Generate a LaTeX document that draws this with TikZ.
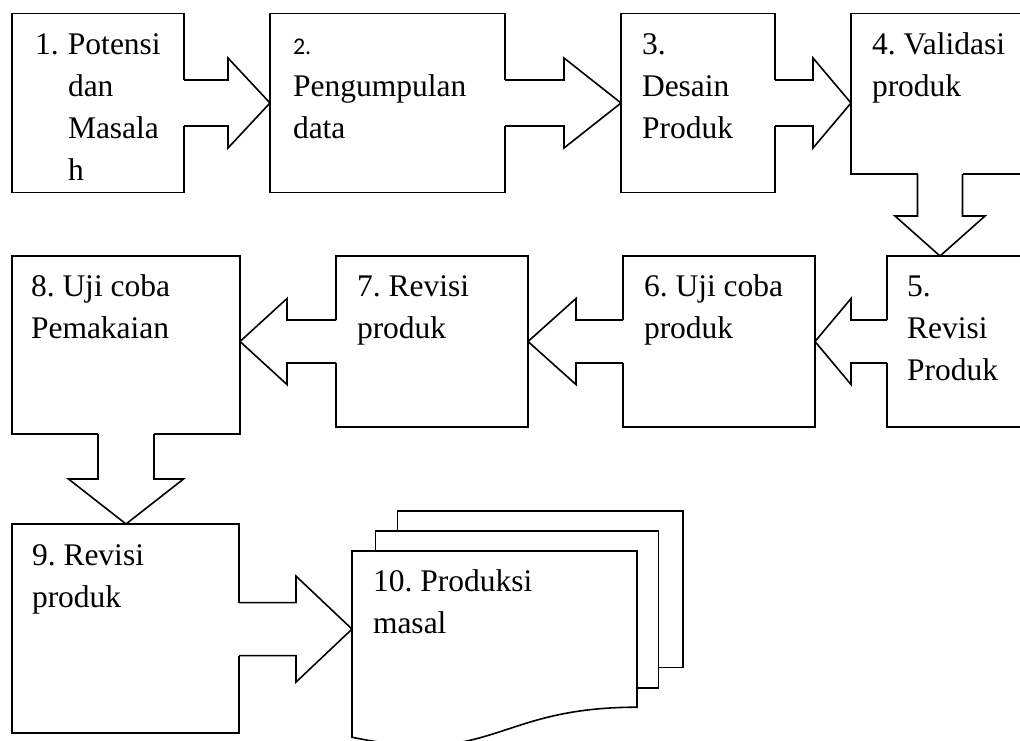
\documentclass[tikz,border=0pt]{standalone}
\usepackage{fontspec}
\setmainfont{Liberation Serif}
\newfontfamily\calib{Carlito}
\usetikzlibrary{calc}
\frenchspacing

\tikzset{
  outl/.style={line width=1.6pt, line join=miter},
  box/.style={outl, draw, fill=white, rectangle, anchor=north west, inner sep=0pt, outer sep=0pt},
  ghost/.style={rectangle, anchor=north west, inner sep=0pt, outer sep=0pt},
  lbl/.style={anchor=base west, inner sep=0pt, outer sep=0pt, font=\fontsize{31.5}{42}\selectfont},
}

% block arrows: #1 source node, #2 tip, #3 shaft half width, #4 head half width, #5 head length
\newcommand\blockR[5]{%
  \coordinate (tp) at (#2);
  \coordinate (st) at (#1.east |- tp);
  \fill[white] ($(st)+(-1.5,-#3)$) rectangle ($(tp)+(-#5,#3)$);
  \draw[outl] ($(st)+(0,-#3)$) -- ($(tp)+(-#5,-#3)$) -- ($(tp)+(-#5,-#4)$) -- (tp)
     -- ($(tp)+(-#5,#4)$) -- ($(tp)+(-#5,#3)$) -- ($(st)+(0,#3)$);
}
\newcommand\blockL[5]{%
  \coordinate (tp) at (#2);
  \coordinate (st) at (#1.west |- tp);
  \fill[white] ($(st)+(1.5,-#3)$) rectangle ($(tp)+(#5,#3)$);
  \draw[outl] ($(st)+(0,-#3)$) -- ($(tp)+(#5,-#3)$) -- ($(tp)+(#5,-#4)$) -- (tp)
     -- ($(tp)+(#5,#4)$) -- ($(tp)+(#5,#3)$) -- ($(st)+(0,#3)$);
}
\newcommand\blockD[5]{%
  \coordinate (tp) at (#2);
  \coordinate (st) at (#1.south -| tp);
  \fill[white] ($(st)+(-#3,-1.5)$) rectangle ($(tp)+(#3,-#5)$);
  \draw[outl] ($(st)+(-#3,0)$) -- ($(tp)+(-#3,-#5)$) -- ($(tp)+(-#4,-#5)$) -- (tp)
     -- ($(tp)+(#4,-#5)$) -- ($(tp)+(#3,-#5)$) -- ($(st)+(#3,0)$);
}

\begin{document}
\begin{tikzpicture}[x=1pt,y=-1pt]
\useasboundingbox (0,0) rectangle (1020,740);
\fill[white] (0,0) rectangle (1020,740);
\clip (0,0) rectangle (1020,740);

% boxes
\node[box, minimum width=172pt, minimum height=179pt] (b1) at (12,13.5) {};
\node[box, minimum width=235pt, minimum height=179pt] (b2) at (270,13.5) {};
\node[box, minimum width=154pt, minimum height=179pt] (b3) at (621,13.5) {};
\node[box, minimum width=178pt, minimum height=160.5pt] (b4) at (851,13.5) {};
\node[box, minimum width=143pt, minimum height=171pt] (b5) at (887,256) {};
\node[box, minimum width=192pt, minimum height=171pt] (b6) at (623,256) {};
\node[box, minimum width=192pt, minimum height=171pt] (b7) at (336,256) {};
\node[box, minimum width=228pt, minimum height=178pt] (b8) at (12,256) {};
\node[box, minimum width=227pt, minimum height=209pt] (b9) at (12,524) {};

% multidocument (10)
\draw[outl, fill=white] (397.5,511) rectangle (683,667.6);
\draw[outl, fill=white] (375.5,530.75) rectangle (658.5,687.9);
\draw[outl, fill=white] (352,737.2) .. controls (494.5,767.2) and (494.5,707.2) .. (637,707.2)
   -- (637,551) -- (352,551) -- cycle;
\node[ghost, minimum width=285pt, minimum height=156.2pt] (b10) at (352,551) {};

% connectors (block arrows)
\blockR{b1}{b2.west}{23}{45}{42}
\blockR{b2}{b3.west}{23}{45}{57}
\blockR{b3}{b4.west |- b3.east}{23}{45}{38}
\blockD{b4}{b4.south |- b5.north}{22.5}{45}{40}
\blockL{b5}{b6.east |- b5.west}{21.5}{43}{36}
\blockL{b6}{b7.east |- b6.west}{21.5}{43}{48}
\blockL{b7}{b8.east |- b7.west}{21.5}{43}{47}
\blockD{b8}{b8.south |- b9.north}{28}{57.5}{45}
\blockR{b9}{b10.west}{26.5}{53}{56}

% texts
\node[lbl] (t1) at (35,54) {\makebox[33pt][l]{1.}\parbox[t]{150pt}{Potensi\\dan\\Masala\\h}};
\node[lbl] (t2) at (293,54) {\parbox[t]{220pt}{{\calib\fontsize{24}{42}\selectfont 2.}\\Pengumpulan\\data}};
\node[lbl] (t3) at (642,54) {\parbox[t]{140pt}{3.\\Desain\\Produk}};
\node[lbl] (t4) at (872,54) {\parbox[t]{160pt}{4. Validasi\\produk}};
\node[lbl] (t5) at (907,296) {\parbox[t]{120pt}{5.\\Revisi\\Produk}};
\node[lbl] (t6) at (644,296) {\parbox[t]{170pt}{6. Uji coba\\produk}};
\node[lbl] (t7) at (357,296) {\parbox[t]{170pt}{7. Revisi\\produk}};
\node[lbl] (t8) at (31,296) {\parbox[t]{200pt}{8. Uji coba\\Pemakaian}};
\node[lbl] (t9) at (32,565) {\parbox[t]{200pt}{9. Revisi\\produk}};
\node[lbl] (t10) at (373,591) {\parbox[t]{250pt}{10. Produksi\\masal}};
\end{tikzpicture}
\end{document}
